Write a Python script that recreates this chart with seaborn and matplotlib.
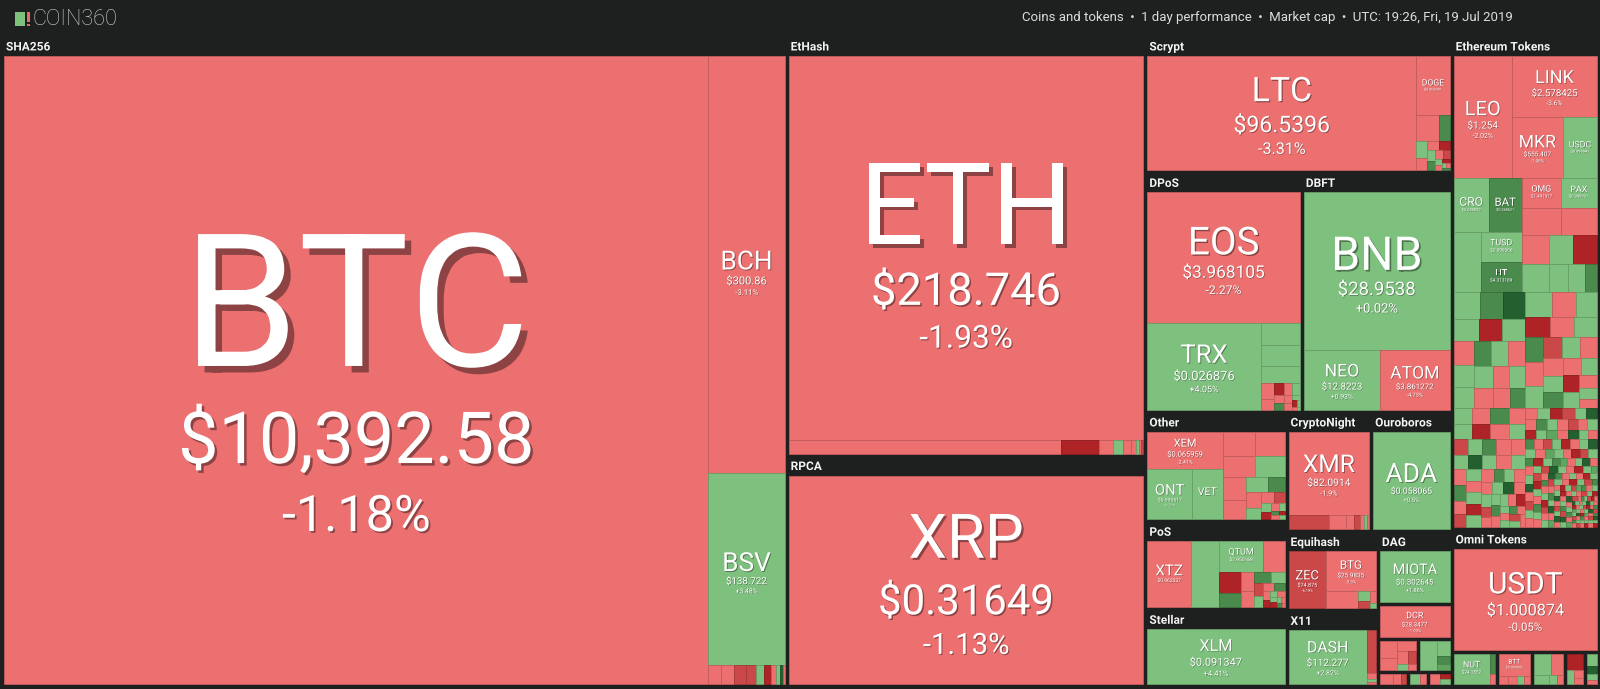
import matplotlib
matplotlib.use("Agg")
import matplotlib.pyplot as plt
import matplotlib.patheffects as path_effects
from matplotlib.patches import Rectangle
import seaborn as sns

# ---- coins: symbol, last price, 1 day change (%), tile size (thousand px^2) ----
symbols = ["BTC", "BCH", "BSV", "ETH", "ETC", "XRP", "LTC", "DOGE", "EOS", "TRX",
           "BNB", "NEO", "ATOM", "LEO", "LINK", "MKR", "USDC", "CRO", "BAT", "OMG",
           "PAX", "TUSD", "HT", "XEM", "ONT", "VET", "XMR", "ADA", "XTZ", "QTUM",
           "ZEC", "BTG", "MIOTA", "DCR", "XLM", "DASH", "USDT", "NUT", "BTT"]
prices = ["10,392.58", "300.86", "138.722", "218.746", "5.764", "0.31649", "96.5396",
          "0.003091", "3.968105", "0.026876", "28.9538", "12.8223", "3.861272", "1.254",
          "2.578425", "555.407", "0.999941", "0.059092", "0.268621", "1.491017",
          "0.999921", "0.999366", "4.313189", "0.065959", "0.930517", "0.005786",
          "82.0914", "0.058065", "0.962037", "2.950168", "74.875", "25.9835", "0.302645",
          "28.3477", "0.091347", "112.277", "1.000874", "24.1552", "0.000802"]
changes = [-1.18, -3.11, 3.48, -1.93, -2.45, -1.13, -3.31, -3.12, -2.27, 4.05,
           0.02, 0.93, -4.73, -2.02, -3.6, -1.08, 0.27, 1.85, 6.41, -1.89,
           0.21, 0.47, 5.26, -2.41, 1.71, 1.4, -1.9, 0.5, -3.02, 1.14,
           -6.19, -3.3, 1.86, -1.93, 4.41, 2.82, -0.05, 1.2, -3.4]
tile_size = [441.5, 31.7, 14.6, 135.6, 3.81, 73.6, 30.4, 1.95, 19.76, 9.72,
             22.6, 4.43, 4.07, 7.08, 5.19, 3.11, 2.07, 1.89, 1.78, 1.17,
             1.08, 1.23, 1.23, 2.80, 2.23, 1.54, 6.63, 7.18, 2.84, 1.30,
             2.10, 1.95, 3.5, 2.06, 7.38, 4.08, 14.3, 1.08, 0.68]

# ---- groups (names starting with "_" are too small for a caption) ----
group_keys = ["SHA256", "EtHash", "RPCA", "Scrypt", "DPoS", "DBFT", "Other", "PoS",
              "Stellar", "CryptoNight", "Ouroboros", "Equihash", "X11", "DAG",
              "_dcr", "_d1", "_d2", "_d3", "_d4", "_d5", "Ethereum Tokens",
              "Omni Tokens", "_o1", "_o2", "_o3", "_o4", "_o5"]
group_size = [509, 150.2, 82.5, 41.7, 37.4, 35.8, 15.4, 12.4,
              10.8, 10.1, 9.6, 7.2, 6.9, 5.35,
              2.53, 1.32, 1.12, 0.42, 0.28, 0.34, 72.5,
              18.1, 1.53, 1.19, 1.12, 0.68, 0.48]

# ---- small unlabeled coins: (total size, relative sizes, colour codes, arrangement) ----
sha_tail = (1.44, [12, 13, 12, 10, 8, 7, 5, 4, 3, 2], "rrqqgRrgDr", "h")
eth_tail = (1.15, [38, 14, 10, 8, 5, 3, 2, 2], "Rrgrrgrq", "h")
ltc_mid = (0.86, [22, 11], "rG", "h")
ltc_tail = (0.96, [90, 70, 60, 50, 45, 40, 35, 30, 25, 20, 15, 12, 10, 8],
            "grrRgGrqgrRgrG", "sq")
dpos_tail = (3.35, [860, 820, 660, 200, 150, 120, 100, 90, 80, 70, 60, 50, 40, 30, 20, 15, 10],
             "gggrrRrgrGrrgRgrg", "sq")
other_tail = (5.40, [690, 620, 600, 550, 490, 400, 300, 220, 200, 150, 120, 100, 80, 60,
                     50, 40, 30, 30, 20, 20], "rrrgrrgGrgrqgRrgGrRg", "sq")
xmr_tail = (1.15, [40, 17.6, 8, 6, 4, 3, 2], "qrrqrgr", "h")
pos_mid = (1.86, [1], "g", "h")
pos_red = (0.65, [1], "r", "h")
pos_tail = (2.31, [400, 280, 220, 180, 170, 130, 100, 90, 80, 70, 60, 50, 40, 40, 30, 30,
                   20, 20, 15, 10], "RGrrGgqgrGrRgrgRgrGr", "sq")
btg_left = (0.55, [1], "r", "h")
btg_right = (0.32, [40, 30, 20, 10], "gqrg", "sq")
dash_tail = (0.48, [40, 5, 3, 2], "qrgr", "v")
dag_t1 = (1.04, [300, 200, 180, 150, 100, 60, 40], "rrrrqgr", "sq")
dag_t2 = (0.87, [500, 200, 100, 80], "ggGm", "sq")
dag_t3 = (0.2, [3, 2, 1], "rrq", "sq")
dag_t4 = (0.1, [2, 1], "gr", "sq")
dag_t5 = (0.15, [2, 1, 1], "rRg", "sq")
et_green = (1.62, [1], "g", "h")
et_right = (6.3, [1050, 970, 780, 740, 720, 700, 540, 480, 320], "rrrggRggG", "sq")
et_low_left = (8.24, [720, 600, 600, 560, 500, 500, 480, 450, 430, 430, 420, 410, 410,
                      370, 360, 350, 330, 300], "gGDgRgrggGgrgrrgrG", "sq")
et_low_right = (8.35, [620, 520, 480, 450, 430, 420, 400, 380, 360, 350, 340, 320, 300,
                       290, 280, 270, 250, 240, 220, 200, 180, 150],
                "grgRrgGrgqgrrgGrgRgrgr", "sq")
et_dense_left = (8.45, [int(c) for c in "9998888777777666666655555555444444443333333322222222"],
                 "grGrgRrgqgGrrgDgrgrGrqgrgRgrGgrrgDrgqrgGrgrRgrgGrqgr", "sq")
et_dense_right = (8.57, [int(c) for c in "9999" "888888" "77777777" "666666666666"
                         "5555555555555555" "44444444444444444444"
                         "3333333333333333333333333333"
                         "222222222222222222222222222222222222"
                         "11111111111111111111111111111111111111111111111111"],
                  "rgRqgDrGgr" "qrgRgmrDgr" "GrqgRrgDgr" "mgrRqgGrgD" "rqgrRgGmrg"
                  "DrgqRgrGgr" "qDgrRgmrGr" "gRqrgDGrgr" "RgqrGgDrmg" "rRgqGrgDrq"
                  "gDrRgqmGrg" "RrgGqDgrgr" "qgRDrgGrmq" "rGgqRrDgrg" "DgrRmgqGrr"
                  "gqRrGgDrgq" "rgDqRGgrmr" "GrgRqDgrgR", "sq")
nut_tail = (0.15, [2, 1], "Gr", "v")
btt_tail = (0.25, [3, 3, 2, 2], "rrgr", "h")
omni_t3 = (0.87, [420, 270, 150, 80, 60], "grggr", "sq")
omni_t4 = (0.48, [300, 120, 80, 60], "Rgrr", "sq")
omni_t5 = (0.3, [150, 100, 80, 50], "gDgr", "sq")

# ---- nesting of the map ----
tree = ("h", [
    ("group", "SHA256", ("h", ["BTC", ("v", ["BCH", "BSV", ("tiles", sha_tail)])])),
    ("v", [
        ("group", "EtHash", ("v", ["ETH", ("h", ["ETC", ("tiles", eth_tail)])])),
        ("group", "RPCA", "XRP"),
    ]),
    ("v", [
        ("group", "Scrypt", ("h", ["LTC", ("v", ["DOGE", ("tiles", ltc_mid), ("tiles", ltc_tail)])])),
        ("h", [
            ("group", "DPoS", ("v", ["EOS", ("h", ["TRX", ("tiles", dpos_tail)])])),
            ("group", "DBFT", ("v", ["BNB", ("h", ["NEO", "ATOM"])])),
        ]),
        ("h", [
            ("v", [
                ("group", "Other", ("h", [("v", ["XEM", ("h", ["ONT", "VET"])]), ("tiles", other_tail)])),
                ("group", "PoS", ("h", ["XTZ", ("tiles", pos_mid),
                                        ("v", [("h", ["QTUM", ("tiles", pos_red)]), ("tiles", pos_tail)])])),
                ("group", "Stellar", "XLM"),
            ]),
            ("v", [
                ("h", [("group", "CryptoNight", ("v", ["XMR", ("tiles", xmr_tail)])),
                       ("group", "Ouroboros", "ADA")]),
                ("h", [
                    ("v", [
                        ("group", "Equihash", ("h", ["ZEC", ("v", ["BTG", ("h", [("tiles", btg_left),
                                                                               ("tiles", btg_right)])])])),
                        ("group", "X11", ("h", ["DASH", ("tiles", dash_tail)])),
                    ]),
                    ("v", [
                        ("group", "DAG", "MIOTA"),
                        ("group", "_dcr", "DCR"),
                        ("h", [("group", "_d1", ("tiles", dag_t1)), ("group", "_d2", ("tiles", dag_t2))]),
                        ("h", [("group", "_d3", ("tiles", dag_t3)), ("group", "_d4", ("tiles", dag_t4)),
                               ("group", "_d5", ("tiles", dag_t5))]),
                    ]),
                ]),
            ]),
        ]),
    ]),
    ("v", [
        ("group", "Ethereum Tokens", ("v", [
            ("h", ["LEO", ("v", ["LINK", ("h", ["MKR", "USDC"])])]),
            ("h", [("v", [("h", ["CRO", "BAT"]), ("h", [("tiles", et_green), ("v", ["TUSD", "HT"])])]),
                   ("v", [("h", ["OMG", "PAX"]), ("tiles", et_right)])]),
            ("h", [("tiles", et_low_left), ("tiles", et_low_right)]),
            ("h", [("tiles", et_dense_left), ("tiles", et_dense_right)]),
        ])),
        ("group", "Omni Tokens", "USDT"),
        ("h", [
            ("group", "_o1", ("h", ["NUT", ("tiles", nut_tail)])),
            ("group", "_o2", ("v", ["BTT", ("tiles", btt_tail)])),
            ("group", "_o3", ("tiles", omni_t3)),
            ("group", "_o4", ("tiles", omni_t4)),
            ("group", "_o5", ("tiles", omni_t5)),
        ]),
    ]),
])

# ---- style ----
BG = "#1e2020"
sns.set_theme(style="dark", rc={"figure.facecolor": BG, "axes.facecolor": BG})
plt.rcParams["font.family"] = ["Roboto", "DejaVu Sans"]

shades = sns.color_palette(["#ad2326", "#cb4848", "#ec7070", "#7ec17e",
                            "#5fa45f", "#4b8a4d", "#24602f", "#c9c9c9"])
code_color = dict(zip("RqrgmGDw", shades))

coin = {s: dict(price=p, change=c, size=v)
        for s, p, c, v in zip(symbols, prices, changes, tile_size)}
group_total = dict(zip(group_keys, group_size))

HEADER, PAD = 20, 2
PX = 0.72  # points per pixel at dpi 100

fig = plt.figure(figsize=(16, 6.89), dpi=100)
ax = fig.add_axes([0, 0, 1, 1])
ax.set_xlim(0, 1600)
ax.set_ylim(689, 0)
ax.axis("off")


def change_code(ch):
    if ch <= -10:
        return "R"
    if ch <= -5:
        return "q"
    if ch < 0:
        return "r"
    if ch < 5:
        return "g"
    if ch < 10:
        return "G"
    return "D"


def box(x, y, w, h, color):
    edge = tuple(c * 0.82 for c in color)
    ax.add_patch(Rectangle((x, y), w, h, facecolor=color, edgecolor=edge, lw=0.6))


def shadow(em):
    off = max(0.6, 0.035 * em) * PX
    return [path_effects.withSimplePatchShadow(offset=(off, -off), shadow_rgbFace="black", alpha=0.4)]


def squarify(sizes, x, y, w, h):
    total = sum(sizes)
    areas = [s * w * h / total for s in sizes]
    out = []

    def worst(row, side):
        s = sum(row)
        return max(max(side * side * r / (s * s), s * s / (side * side * r)) for r in row)

    i = 0
    while i < len(areas):
        side = min(w, h)
        row = [areas[i]]
        i += 1
        while i < len(areas) and worst(row + [areas[i]], side) <= worst(row, side):
            row.append(areas[i])
            i += 1
        s = sum(row)
        if w >= h:
            rw = s / h
            yy = y
            for r in row:
                out.append((x, yy, rw, r / rw))
                yy += r / rw
            x += rw
            w -= rw
        else:
            rh = s / w
            xx = x
            for r in row:
                out.append((xx, y, r / rh, rh))
                xx += r / rh
            y += rh
            h -= rh
    return out


def draw_coin(sym, x, y, w, h):
    info = coin[sym]
    color = code_color[change_code(info["change"])]
    box(x, y, w, h, color)
    s_em = min(0.21 * h / 0.711, 0.62 * w / (0.6 * len(sym)))
    if s_em < 6:
        return
    price = "$" + info["price"]
    pct = f"{info['change']:+.2f}".rstrip("0").rstrip(".") + "%"
    p_em = min(0.5 * w / (0.49 * len(price)), 0.68 * s_em)
    c_em = 0.7 * p_em
    cap = 0.711
    g1, g2 = 0.9 * cap * p_em, 0.9 * cap * c_em
    block = cap * (s_em + p_em + c_em) + g1 + g2
    top = y + h / 2 + 0.02 * h - block / 2
    cx = x + w / 2
    b1 = top + cap * s_em
    b2 = b1 + g1 + cap * p_em
    b3 = b2 + g2 + cap * c_em
    for txt, base, em in [(sym, b1, s_em), (price, b2, p_em), (pct, b3, c_em)]:
        if em < 3.5:
            continue
        ax.text(cx, base, txt, ha="center", va="baseline", color="white",
                fontsize=em * PX, path_effects=shadow(em))


def node_size(node):
    if isinstance(node, str):
        return coin[node]["size"]
    if node[0] == "group":
        return group_total[node[1]]
    if node[0] == "tiles":
        return node[1][0]
    return sum(node_size(c) for c in node[1])


def place(node, x, y, w, h):
    if isinstance(node, str):
        draw_coin(node, x, y, w, h)
        return
    kind = node[0]
    if kind == "group":
        key, child = node[1], node[2]
        if key.startswith("_"):
            place(child, x + PAD, y + PAD, w - 2 * PAD, h - 2 * PAD)
        else:
            ax.text(x + PAD + 2, y + 11, key, ha="left", va="center", color="#f4f4f4",
                    fontsize=8.6, fontweight="bold", path_effects=shadow(8))
            place(child, x + PAD, y + HEADER, w - 2 * PAD, h - HEADER - PAD)
        return
    if kind == "tiles":
        _, sizes, codes, mode = node[1]
        if mode == "sq":
            rects = squarify(sizes, x, y, w, h)
        else:
            tot = sum(sizes)
            rects, pos = [], 0
            for s in sizes:
                if mode == "h":
                    rects.append((x + pos, y, w * s / tot, h))
                    pos += w * s / tot
                else:
                    rects.append((x, y + pos, w, h * s / tot))
                    pos += h * s / tot
        for (rx, ry, rw, rh), c in zip(rects, codes):
            box(rx, ry, rw, rh, code_color[c])
        return
    children = node[1]
    vals = [node_size(c) for c in children]
    tot = sum(vals)
    for c, v in zip(children, vals):
        if kind == "h":
            cw = w * v / tot
            place(c, x, y, cw, h)
            x += cw
        else:
            ch = h * v / tot
            place(c, x, y, w, ch)
            y += ch


place(tree, 2, 36, 1597, 650)

# ---- top bar ----
ax.add_patch(Rectangle((15, 12), 10, 14, facecolor="#7ec17e", lw=0))
ax.add_patch(Rectangle((26.5, 12), 3, 10, facecolor="#e86a6a", lw=0))
ax.add_patch(Rectangle((26.5, 23.5), 3, 2.5, facecolor="#e86a6a", lw=0))
ax.text(33, 19.5, "COIN360", ha="left", va="center", color="#cfcfcf",
        fontsize=15.6, fontweight="light")
ax.text(1513, 18, "Coins and tokens  \u2022  1 day performance  \u2022  Market cap  \u2022  "
        "UTC: 19:26, Fri, 19 Jul 2019", ha="right", va="center", color="#dcdcdc", fontsize=9.5)

fig.savefig("out.png", dpi=100, facecolor=BG)
